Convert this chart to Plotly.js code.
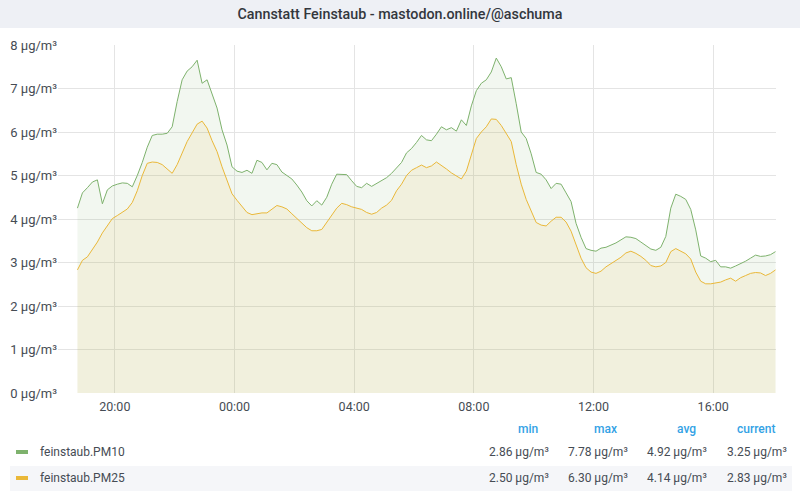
<!DOCTYPE html>
<html>
<head>
<meta charset="utf-8">
<script src="https://cdn.plot.ly/plotly-3.0.1.min.js"></script>
<style>
  html, body { margin: 0; padding: 0; background: #ffffff; }
  #chart { width: 800px; height: 500px; }
</style>
</head>
<body>
<div id="chart"></div>
<script>
// sampling grid: 10 minute steps, 18:45 -> 18:05 next day
const startTime = Date.UTC(2021, 0, 1, 18, 45);
const stepMinutes = 10;

const pm10 = [
  4.25, 4.60, 4.72, 4.85, 4.90, 4.35, 4.67, 4.76, 4.80, 4.83,
  4.82, 4.74, 5.00, 5.30, 5.65, 5.92, 5.95, 5.95, 5.97, 6.12,
  6.70, 7.20, 7.40, 7.50, 7.65, 7.12, 7.20, 6.89, 6.55, 6.05,
  5.70, 5.20, 5.10, 5.07, 5.12, 5.05, 5.35, 5.30, 5.13, 5.28,
  5.25, 5.08, 5.00, 4.92, 4.78, 4.62, 4.42, 4.30, 4.42, 4.32,
  4.50, 4.80, 5.03, 5.02, 5.02, 4.88, 4.75, 4.72, 4.82, 4.75,
  4.82, 4.88, 4.95, 5.05, 5.17, 5.30, 5.52, 5.62, 5.76, 5.92,
  5.82, 5.80, 5.95, 6.12, 6.05, 6.10, 6.02, 6.28, 6.15, 6.60,
  6.95, 7.12, 7.20, 7.38, 7.70, 7.50, 7.22, 7.25, 6.65, 6.00,
  5.85, 5.50, 5.07, 5.03, 4.90, 4.70, 4.82, 4.80, 4.60, 4.40,
  3.90, 3.58, 3.32, 3.28, 3.26, 3.33, 3.35, 3.40, 3.45, 3.52,
  3.59, 3.58, 3.55, 3.47, 3.38, 3.31, 3.28, 3.35, 3.60, 4.25,
  4.57, 4.52, 4.45, 4.22, 3.75, 3.15, 3.10, 3.02, 3.05, 2.90,
  2.90, 2.87, 2.92, 2.97, 3.03, 3.10, 3.17, 3.14, 3.15, 3.18,
  3.25
];

const pm25 = [
  2.83, 3.05, 3.13, 3.30, 3.47, 3.68, 3.85, 4.01, 4.08, 4.15,
  4.23, 4.38, 4.65, 5.00, 5.28, 5.31, 5.30, 5.25, 5.15, 5.05,
  5.25, 5.52, 5.78, 5.98, 6.18, 6.25, 6.09, 5.80, 5.55, 5.20,
  4.90, 4.58, 4.43, 4.30, 4.15, 4.10, 4.12, 4.14, 4.14, 4.22,
  4.31, 4.28, 4.23, 4.12, 4.02, 3.90, 3.80, 3.73, 3.73, 3.76,
  3.93, 4.10, 4.25, 4.36, 4.33, 4.28, 4.25, 4.22, 4.15, 4.11,
  4.15, 4.25, 4.32, 4.43, 4.65, 4.80, 5.00, 5.12, 5.18, 5.24,
  5.18, 5.22, 5.31, 5.24, 5.15, 5.06, 4.98, 4.92, 5.10, 5.50,
  5.85, 6.00, 6.12, 6.30, 6.29, 6.15, 5.95, 5.78, 5.25, 4.80,
  4.45, 4.18, 3.92, 3.86, 3.84, 3.95, 4.04, 4.04, 3.93, 3.72,
  3.40, 3.10, 2.88, 2.78, 2.75, 2.80, 2.90, 2.97, 3.04, 3.12,
  3.22, 3.26, 3.21, 3.14, 3.05, 2.93, 2.90, 2.92, 3.00, 3.25,
  3.32, 3.26, 3.20, 3.08, 2.78, 2.57, 2.51, 2.51, 2.53, 2.55,
  2.60, 2.64, 2.57, 2.65, 2.70, 2.75, 2.77, 2.76, 2.70, 2.75,
  2.83
];

const seriesNames = ['feinstaub.PM10', 'feinstaub.PM25'];
const statHeaders = ['min', 'max', 'avg', 'current'];
const statsPM10 = ['2.86', '7.78', '4.92', '3.25'];
const statsPM25 = ['2.50', '6.30', '4.14', '2.83'];
const unit = ' μg/m³';

const times = pm10.map((_, i) =>
  new Date(startTime + i * stepMinutes * 60000).toISOString().slice(0, 16).replace('T', ' '));

// plot frame in pixels
const W = 800, H = 500;
const M = { l: 58, r: 24, t: 45, b: 107 };
const plotW = W - M.l - M.r, plotH = H - M.t - M.b;
const px = x => (x - M.l) / plotW;
const py = y => (H - M.b - y) / plotH;

const green = '#7eb26d';
const yellow = '#eab839';
const textGray = '#464c54';
const blue = '#33a2e5';

const traces = [
  {
    x: times, y: pm10, name: seriesNames[0], type: 'scatter', mode: 'lines',
    line: { color: green, width: 1 },
    fill: 'tozeroy', fillcolor: 'rgba(126,178,109,0.1)'
  },
  {
    x: times, y: pm25, name: seriesNames[1], type: 'scatter', mode: 'lines',
    line: { color: yellow, width: 1 },
    fill: 'tozeroy', fillcolor: 'rgba(234,184,57,0.1)'
  }
];

const shapes = [
  // header band
  { type: 'rect', xref: 'paper', yref: 'paper', layer: 'below',
    x0: px(0), x1: px(W), y0: py(28), y1: py(0),
    fillcolor: '#eef0f5', line: { width: 0 } },
  // striped second legend row
  { type: 'rect', xref: 'paper', yref: 'paper', layer: 'below',
    x0: px(10), x1: px(792), y0: py(491), y1: py(466),
    fillcolor: '#f5f6f9', line: { width: 0 } }
];

const annotations = [];
const colRight = [551, 630, 709, 789];
const headRight = [540, 619, 698, 777];
statHeaders.forEach((h, i) => {
  annotations.push({ xref: 'paper', yref: 'paper', x: px(headRight[i]), y: py(429),
    xanchor: 'right', yanchor: 'middle', showarrow: false, text: h,
    font: { size: 12, color: blue, weight: 500 } });
});
[statsPM10, statsPM25].forEach((stats, r) => {
  const rowY = r === 0 ? 452 : 478;
  const color = r === 0 ? green : yellow;
  shapes.push({ type: 'rect', xref: 'paper', yref: 'paper',
    x0: px(16), x1: px(28), y0: py(rowY + 2), y1: py(rowY - 2),
    fillcolor: color, line: { width: 0 } });
  annotations.push({ xref: 'paper', yref: 'paper', x: px(38), y: py(rowY),
    xanchor: 'left', yanchor: 'middle', showarrow: false, text: seriesNames[r],
    font: { size: 12, color: textGray } });
  stats.forEach((v, i) => {
    annotations.push({ xref: 'paper', yref: 'paper', x: px(colRight[i]), y: py(rowY),
      xanchor: 'right', yanchor: 'middle', showarrow: false, text: v + unit,
      font: { size: 12, color: textGray } });
  });
});

const layout = {
  width: W, height: H,
  margin: M,
  paper_bgcolor: '#ffffff',
  plot_bgcolor: '#ffffff',
  font: { family: 'Roboto, "Open Sans", sans-serif', size: 12, color: textGray },
  title: {
    text: 'Cannstatt Feinstaub - mastodon.online/@aschuma',
    font: { size: 14.3, color: '#33373d', weight: 500 },
    x: 0.5, xref: 'container', xanchor: 'center',
    y: 1 - 14 / H, yref: 'container', yanchor: 'middle'
  },
  showlegend: false,
  hovermode: false,
  xaxis: {
    type: 'date',
    range: ['2021-01-01 18:06', '2021-01-02 18:06'],
    tick0: '2021-01-01 20:00', dtick: 4 * 3600000,
    tickformat: '%H:%M',
    showgrid: true, gridcolor: '#e4e4e4', gridwidth: 1,
    zeroline: false, showline: false, ticks: '',
    ticklabelstandoff: 4,
    tickfont: { size: 12.5, color: textGray }
  },
  yaxis: {
    range: [0, 8], dtick: 1,
    ticksuffix: unit,
    showgrid: true, gridcolor: '#e4e4e4', gridwidth: 1,
    zeroline: false, showline: false, ticks: '',
    tickfont: { size: 13, color: textGray }
  },
  shapes: shapes,
  annotations: annotations
};

Plotly.newPlot('chart', traces, layout, { displayModeBar: false, staticPlot: true });
</script>
</body>
</html>
